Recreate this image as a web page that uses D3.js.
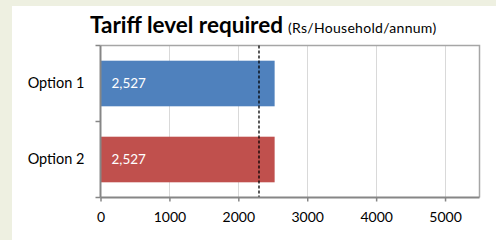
<!DOCTYPE html>
<html>
<head>
<meta charset="utf-8">
<script src="https://cdn.jsdelivr.net/npm/d3@7"></script>
<style>
  html, body { margin: 0; padding: 0; background: #eef0e1; }
  svg { display: block; }
  text { font-family: Lato, "Open Sans", sans-serif; }
</style>
</head>
<body>
<div id="chart"></div>
<script>
const categories = ["Option 1", "Option 2"];
const values = [2527, 2527];
const colors = ["#4f81bd", "#c0504d"];
const xTicks = [0, 1000, 2000, 3000, 4000, 5000];
const xMax = 5500;
const refValue = 2300;

const W = 496, H = 240;
const margin = {top: 45.5, right: 16.5, bottom: 42.5, left: 100.5};
const FONT = "Lato, 'Open Sans', sans-serif";

const svg = d3.select("#chart").append("svg")
	.attr("width", W)
	.attr("height", H);

// white panel
svg.append("rect")
	.attr("x", 12).attr("y", 6)
	.attr("width", W - 12).attr("height", H - 6)
	.attr("fill", "#fff");

const x = d3.scaleLinear()
	.domain([0, xMax])
	.range([margin.left, W - margin.right]);

const y = d3.scaleBand()
	.domain(categories)
	.range([margin.top, H - margin.bottom])
	.paddingInner(0.4)
	.paddingOuter(0.2);

const yFull = d3.scaleBand()
	.domain(categories)
	.range([margin.top, H - margin.bottom]);

// gridlines
svg.append("g")
	.selectAll("line")
	.data(xTicks.slice(1))
	.enter().append("line")
	.attr("x1", (d) => Math.round(x(d)) + 0.5)
	.attr("x2", (d) => Math.round(x(d)) + 0.5)
	.attr("y1", margin.top)
	.attr("y2", H - margin.bottom)
	.attr("stroke", "#d9d9d9")
	.attr("stroke-width", 1);

// plot frame (top & right)
svg.append("path")
	.attr("d", `M${margin.left},${margin.top}H${W - margin.right}V${H - margin.bottom}`)
	.attr("fill", "none")
	.attr("stroke", "#a6a6a6")
	.attr("stroke-width", 1.5);

// bars
svg.append("g")
	.selectAll("rect")
	.data(categories)
	.enter().append("rect")
	.attr("x", x(0))
	.attr("y", (d) => y(d))
	.attr("width", (d, i) => x(values[i]) - x(0))
	.attr("height", y.bandwidth())
	.attr("fill", (d, i) => colors[i]);

// value labels
svg.append("g")
	.selectAll("text")
	.data(categories)
	.enter().append("text")
	.attr("x", x(0) + 11)
	.attr("y", (d) => y(d) + y.bandwidth() / 2)
	.attr("dy", "0.35em")
	.attr("fill", "#fff")
	.style("font-size", "13.5px")
	.text((d, i) => d3.format(",")(values[i]));

// reference dashed line
svg.append("line")
	.attr("x1", x(refValue)).attr("x2", x(refValue))
	.attr("y1", margin.top).attr("y2", H - margin.bottom)
	.attr("stroke", "#000")
	.attr("stroke-width", 1.3)
	.attr("stroke-dasharray", "3,2");

// x axis
const xAxis = svg.append("g")
	.attr("transform", `translate(0,${H - margin.bottom})`)
	.call(d3.axisBottom(x).tickValues(xTicks).tickSize(4).tickSizeOuter(0).tickFormat(d3.format("d")));
xAxis.select(".domain").attr("stroke", "#868686").attr("stroke-width", 2)
	.attr("d", `M${margin.left},0H${W - margin.right}`);
xAxis.selectAll(".tick line").attr("stroke", "#868686").attr("stroke-width", 1.5);
xAxis.selectAll(".tick text")
	.attr("y", 15)
	.attr("fill", "#000")
	.style("font-size", "14px")
	.style("font-family", FONT);

// y axis
const yAxis = svg.append("g")
	.attr("transform", `translate(${margin.left},0)`)
	.call(d3.axisLeft(yFull).tickSize(0).tickPadding(16));
yAxis.select(".domain").attr("stroke", "#868686").attr("stroke-width", 2)
	.attr("d", `M0,${margin.top}V${H - margin.bottom}`);
yAxis.selectAll(".tick text")
	.attr("fill", "#000")
	.style("font-size", "14.5px")
	.style("font-family", FONT);
// category separator ticks
yAxis.selectAll(".sep")
	.data([margin.top, (margin.top + H - margin.bottom) / 2, H - margin.bottom])
	.enter().append("line")
	.attr("x1", -5).attr("x2", 0)
	.attr("y1", (d) => d).attr("y2", (d) => d)
	.attr("stroke", "#868686")
	.attr("stroke-width", 1.5);

// title
const title = svg.append("text")
	.attr("x", 90)
	.attr("y", 33);
title.append("tspan")
	.style("font-size", "22.5px")
	.style("font-weight", "bold")
	.text("Tariff level required");
title.append("tspan")
	.attr("dx", 5)
	.style("font-size", "14px")
	.style("letter-spacing", "0.3px")
	.text("(Rs/Household/annum)");
</script>
</body>
</html>
